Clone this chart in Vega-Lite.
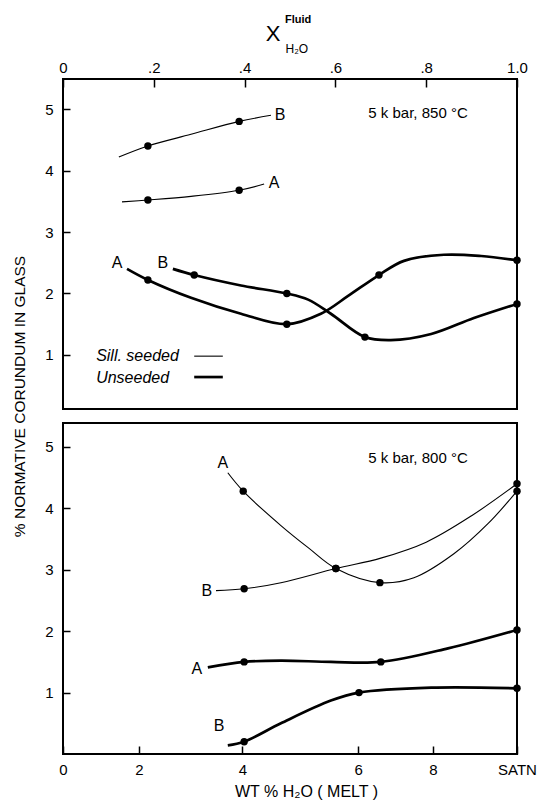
{
  "$schema": "https://vega.github.io/schema/vega-lite/v6.json",
  "background": "white",
  "padding": {"left": 11, "top": 13, "right": 5, "bottom": 5},
  "bounds": "flush",
  "spacing": 14,
  "config": {
    "view": {"stroke": "black", "strokeWidth": 2},
    "font": "Liberation Sans",
    "axis": {"grid": false, "domain": false, "tickColor": "black", "tickWidth": 1.5, "labelColor": "black", "titleColor": "black", "labelFont": "Liberation Sans", "titleFont": "Liberation Sans", "labelFontSize": 15, "titleFontSize": 15.5, "titleFontWeight": "normal", "labelFlush": false, "labelOverlap": false},
    "text": {"font": "Liberation Sans", "color": "black"}
  },
  "datasets": {
    "p850": [
      {"kind": "curve", "series": "SB", "treatment": "Sill. seeded", "x": 0.123, "y": 4.22, "obs": false},
      {"kind": "curve", "series": "SB", "treatment": "Sill. seeded", "x": 0.187, "y": 4.40, "obs": true},
      {"kind": "curve", "series": "SB", "treatment": "Sill. seeded", "x": 0.282, "y": 4.59, "obs": false},
      {"kind": "curve", "series": "SB", "treatment": "Sill. seeded", "x": 0.388, "y": 4.80, "obs": true},
      {"kind": "curve", "series": "SB", "treatment": "Sill. seeded", "x": 0.458, "y": 4.90, "obs": false},
      {"kind": "curve", "series": "SA", "treatment": "Sill. seeded", "x": 0.130, "y": 3.49, "obs": false},
      {"kind": "curve", "series": "SA", "treatment": "Sill. seeded", "x": 0.187, "y": 3.52, "obs": true},
      {"kind": "curve", "series": "SA", "treatment": "Sill. seeded", "x": 0.282, "y": 3.58, "obs": false},
      {"kind": "curve", "series": "SA", "treatment": "Sill. seeded", "x": 0.388, "y": 3.68, "obs": true},
      {"kind": "curve", "series": "SA", "treatment": "Sill. seeded", "x": 0.443, "y": 3.78, "obs": false},
      {"kind": "curve", "series": "UA", "treatment": "Unseeded", "x": 0.141, "y": 2.40, "obs": false},
      {"kind": "curve", "series": "UA", "treatment": "Unseeded", "x": 0.187, "y": 2.22, "obs": true},
      {"kind": "curve", "series": "UA", "treatment": "Unseeded", "x": 0.282, "y": 1.93, "obs": false},
      {"kind": "curve", "series": "UA", "treatment": "Unseeded", "x": 0.392, "y": 1.67, "obs": false},
      {"kind": "curve", "series": "UA", "treatment": "Unseeded", "x": 0.493, "y": 1.50, "obs": true},
      {"kind": "curve", "series": "UA", "treatment": "Unseeded", "x": 0.568, "y": 1.67, "obs": false},
      {"kind": "curve", "series": "UA", "treatment": "Unseeded", "x": 0.628, "y": 1.96, "obs": false},
      {"kind": "curve", "series": "UA", "treatment": "Unseeded", "x": 0.696, "y": 2.30, "obs": true},
      {"kind": "curve", "series": "UA", "treatment": "Unseeded", "x": 0.751, "y": 2.53, "obs": false},
      {"kind": "curve", "series": "UA", "treatment": "Unseeded", "x": 0.839, "y": 2.63, "obs": false},
      {"kind": "curve", "series": "UA", "treatment": "Unseeded", "x": 0.921, "y": 2.61, "obs": false},
      {"kind": "curve", "series": "UA", "treatment": "Unseeded", "x": 1.0, "y": 2.54, "obs": true},
      {"kind": "curve", "series": "UB", "treatment": "Unseeded", "x": 0.242, "y": 2.40, "obs": false},
      {"kind": "curve", "series": "UB", "treatment": "Unseeded", "x": 0.289, "y": 2.30, "obs": true},
      {"kind": "curve", "series": "UB", "treatment": "Unseeded", "x": 0.392, "y": 2.13, "obs": false},
      {"kind": "curve", "series": "UB", "treatment": "Unseeded", "x": 0.493, "y": 2.00, "obs": true},
      {"kind": "curve", "series": "UB", "treatment": "Unseeded", "x": 0.540, "y": 1.90, "obs": false},
      {"kind": "curve", "series": "UB", "treatment": "Unseeded", "x": 0.590, "y": 1.67, "obs": false},
      {"kind": "curve", "series": "UB", "treatment": "Unseeded", "x": 0.665, "y": 1.29, "obs": true},
      {"kind": "curve", "series": "UB", "treatment": "Unseeded", "x": 0.722, "y": 1.24, "obs": false},
      {"kind": "curve", "series": "UB", "treatment": "Unseeded", "x": 0.811, "y": 1.34, "obs": false},
      {"kind": "curve", "series": "UB", "treatment": "Unseeded", "x": 0.905, "y": 1.60, "obs": false},
      {"kind": "curve", "series": "UB", "treatment": "Unseeded", "x": 1.0, "y": 1.83, "obs": true},
      {"kind": "legend", "series": "LS", "treatment": "Sill. seeded", "x": 0.289, "y": 0.98, "obs": false},
      {"kind": "legend", "series": "LS", "treatment": "Sill. seeded", "x": 0.352, "y": 0.98, "obs": false},
      {"kind": "legend", "series": "LU", "treatment": "Unseeded", "x": 0.289, "y": 0.64, "obs": false},
      {"kind": "legend", "series": "LU", "treatment": "Unseeded", "x": 0.352, "y": 0.64, "obs": false},
      {"kind": "label", "text": "B", "x": 0.478, "y": 4.90},
      {"kind": "label", "text": "A", "x": 0.465, "y": 3.80},
      {"kind": "label", "text": "A", "x": 0.119, "y": 2.50},
      {"kind": "label", "text": "B", "x": 0.220, "y": 2.50},
      {"kind": "cond", "text": "5 k bar, 850 °C", "x": 0.782, "y": 4.93},
      {"kind": "legtext", "text": "Sill. seeded", "x": 0.073, "y": 0.98},
      {"kind": "legtext", "text": "Unseeded", "x": 0.073, "y": 0.63},
      {"kind": "xt", "text": "X", "x": 0.463, "y": 6.22},
      {"kind": "xsup", "text": "Fluid", "x": 0.518, "y": 6.45},
      {"kind": "xsub", "text": "H₂O", "x": 0.515, "y": 5.98}
    ],
    "p800": [
      {"kind": "curve", "series": "SA", "treatment": "Sill. seeded", "x": 0.363, "y": 4.58, "obs": false},
      {"kind": "curve", "series": "SA", "treatment": "Sill. seeded", "x": 0.397, "y": 4.28, "obs": true},
      {"kind": "curve", "series": "SA", "treatment": "Sill. seeded", "x": 0.480, "y": 3.72, "obs": false},
      {"kind": "curve", "series": "SA", "treatment": "Sill. seeded", "x": 0.540, "y": 3.36, "obs": false},
      {"kind": "curve", "series": "SA", "treatment": "Sill. seeded", "x": 0.601, "y": 3.02, "obs": true},
      {"kind": "curve", "series": "SA", "treatment": "Sill. seeded", "x": 0.698, "y": 2.79, "obs": true},
      {"kind": "curve", "series": "SA", "treatment": "Sill. seeded", "x": 0.773, "y": 2.87, "obs": false},
      {"kind": "curve", "series": "SA", "treatment": "Sill. seeded", "x": 0.861, "y": 3.26, "obs": false},
      {"kind": "curve", "series": "SA", "treatment": "Sill. seeded", "x": 0.936, "y": 3.75, "obs": false},
      {"kind": "curve", "series": "SA", "treatment": "Sill. seeded", "x": 1.0, "y": 4.28, "obs": true},
      {"kind": "curve", "series": "SB", "treatment": "Sill. seeded", "x": 0.337, "y": 2.66, "obs": false},
      {"kind": "curve", "series": "SB", "treatment": "Sill. seeded", "x": 0.399, "y": 2.69, "obs": true},
      {"kind": "curve", "series": "SB", "treatment": "Sill. seeded", "x": 0.480, "y": 2.79, "obs": false},
      {"kind": "curve", "series": "SB", "treatment": "Sill. seeded", "x": 0.601, "y": 3.02, "obs": true},
      {"kind": "curve", "series": "SB", "treatment": "Sill. seeded", "x": 0.700, "y": 3.19, "obs": false},
      {"kind": "curve", "series": "SB", "treatment": "Sill. seeded", "x": 0.800, "y": 3.45, "obs": false},
      {"kind": "curve", "series": "SB", "treatment": "Sill. seeded", "x": 0.900, "y": 3.88, "obs": false},
      {"kind": "curve", "series": "SB", "treatment": "Sill. seeded", "x": 1.0, "y": 4.40, "obs": true},
      {"kind": "curve", "series": "UA", "treatment": "Unseeded", "x": 0.319, "y": 1.41, "obs": false},
      {"kind": "curve", "series": "UA", "treatment": "Unseeded", "x": 0.399, "y": 1.50, "obs": true},
      {"kind": "curve", "series": "UA", "treatment": "Unseeded", "x": 0.480, "y": 1.52, "obs": false},
      {"kind": "curve", "series": "UA", "treatment": "Unseeded", "x": 0.590, "y": 1.50, "obs": false},
      {"kind": "curve", "series": "UA", "treatment": "Unseeded", "x": 0.700, "y": 1.50, "obs": true},
      {"kind": "curve", "series": "UA", "treatment": "Unseeded", "x": 0.848, "y": 1.72, "obs": false},
      {"kind": "curve", "series": "UA", "treatment": "Unseeded", "x": 1.0, "y": 2.02, "obs": true},
      {"kind": "curve", "series": "UB", "treatment": "Unseeded", "x": 0.363, "y": 0.14, "obs": false},
      {"kind": "curve", "series": "UB", "treatment": "Unseeded", "x": 0.399, "y": 0.20, "obs": true},
      {"kind": "curve", "series": "UB", "treatment": "Unseeded", "x": 0.480, "y": 0.50, "obs": false},
      {"kind": "curve", "series": "UB", "treatment": "Unseeded", "x": 0.590, "y": 0.87, "obs": false},
      {"kind": "curve", "series": "UB", "treatment": "Unseeded", "x": 0.652, "y": 1.00, "obs": true},
      {"kind": "curve", "series": "UB", "treatment": "Unseeded", "x": 0.811, "y": 1.08, "obs": false},
      {"kind": "curve", "series": "UB", "treatment": "Unseeded", "x": 1.0, "y": 1.07, "obs": true},
      {"kind": "label", "text": "A", "x": 0.352, "y": 4.74},
      {"kind": "label", "text": "B", "x": 0.317, "y": 2.66},
      {"kind": "label", "text": "A", "x": 0.295, "y": 1.39},
      {"kind": "label", "text": "B", "x": 0.344, "y": 0.46},
      {"kind": "cond", "text": "5 k bar, 800 °C", "x": 0.782, "y": 4.82}
    ]
  },
  "vconcat": [
    {
      "width": 454,
      "height": 330,
      "data": {"name": "p850"},
      "encoding": {
        "x": {"field": "x", "type": "quantitative", "scale": {"domain": [0, 1], "nice": false, "zero": false},
          "axis": {"orient": "top", "values": [0, 0.2, 0.4, 0.6, 0.8, 1], "labelExpr": "datum.value == 0 ? '0' : datum.value == 1 ? '1.0' : '.' + format(datum.value * 10, 'd')", "tickSize": -8, "labelPadding": 12, "title": null}},
        "y": {"field": "y", "type": "quantitative", "scale": {"domain": [0.12, 5.49], "nice": false, "zero": false},
          "axis": {"values": [1, 2, 3, 4, 5], "tickSize": -7, "labelPadding": 17, "title": "% NORMATIVE CORUNDUM IN GLASS", "titleX": -44, "titleY": 317, "titleBaseline": "middle", "titleAlign": "center", "titleAngle": -90}}
      },
      "layer": [
        {
          "transform": [{"filter": "datum.kind == 'curve' || datum.kind == 'legend'"}],
          "mark": {"type": "line", "interpolate": "catmull-rom", "color": "black"},
          "encoding": {
            "detail": {"field": "series"},
            "strokeWidth": {"field": "treatment", "type": "ordinal", "scale": {"domain": ["Sill. seeded", "Unseeded"], "range": [1.1, 2.7]}, "legend": null}
          }
        },
        {
          "transform": [{"filter": "datum.kind == 'curve' && datum.obs"}],
          "mark": {"type": "circle", "size": 55, "color": "black", "opacity": 1}
        },
        {
          "transform": [{"filter": "datum.kind == 'label'"}],
          "mark": {"type": "text", "fontSize": 16, "baseline": "middle", "align": "center"},
          "encoding": {"text": {"field": "text"}}
        },
        {
          "transform": [{"filter": "datum.kind == 'cond'"}],
          "mark": {"type": "text", "fontSize": 15, "baseline": "middle", "align": "center"},
          "encoding": {"text": {"field": "text"}}
        },
        {
          "transform": [{"filter": "datum.kind == 'legtext'"}],
          "mark": {"type": "text", "fontSize": 16, "fontStyle": "italic", "baseline": "middle", "align": "left"},
          "encoding": {"text": {"field": "text"}}
        },
        {
          "transform": [{"filter": "datum.kind == 'xt'"}],
          "mark": {"type": "text", "fontSize": 22, "baseline": "middle", "align": "center"},
          "encoding": {"text": {"field": "text"}}
        },
        {
          "transform": [{"filter": "datum.kind == 'xsup'"}],
          "mark": {"type": "text", "fontSize": 11, "fontWeight": "bold", "baseline": "middle", "align": "center"},
          "encoding": {"text": {"field": "text"}}
        },
        {
          "transform": [{"filter": "datum.kind == 'xsub'"}],
          "mark": {"type": "text", "fontSize": 12, "baseline": "middle", "align": "center"},
          "encoding": {"text": {"field": "text"}}
        }
      ]
    },
    {
      "width": 454,
      "height": 331,
      "data": {"name": "p800"},
      "encoding": {
        "x": {"field": "x", "type": "quantitative", "scale": {"domain": [0, 1], "nice": false, "zero": false},
          "axis": {"orient": "bottom", "values": [0, 0.167, 0.395, 0.65, 0.815, 1], "labelExpr": "datum.value < 0.05 ? '0' : datum.value < 0.3 ? '2' : datum.value < 0.5 ? '4' : datum.value < 0.7 ? '6' : datum.value < 0.9 ? '8' : 'SATN'", "tickSize": -8, "labelPadding": 16, "title": "WT % H₂O ( MELT )", "titleFontSize": 16, "titlePadding": 6, "titleX": 243}},
        "y": {"field": "y", "type": "quantitative", "scale": {"domain": [0, 5.39], "nice": false, "zero": false},
          "axis": {"values": [1, 2, 3, 4, 5], "tickSize": -7, "labelPadding": 17, "title": null}}
      },
      "layer": [
        {
          "transform": [{"filter": "datum.kind == 'curve'"}],
          "mark": {"type": "line", "interpolate": "catmull-rom", "color": "black"},
          "encoding": {
            "detail": {"field": "series"},
            "strokeWidth": {"field": "treatment", "type": "ordinal", "scale": {"domain": ["Sill. seeded", "Unseeded"], "range": [1.1, 2.7]}, "legend": null}
          }
        },
        {
          "transform": [{"filter": "datum.kind == 'curve' && datum.obs"}],
          "mark": {"type": "circle", "size": 55, "color": "black", "opacity": 1}
        },
        {
          "transform": [{"filter": "datum.kind == 'label'"}],
          "mark": {"type": "text", "fontSize": 16, "baseline": "middle", "align": "center"},
          "encoding": {"text": {"field": "text"}}
        },
        {
          "transform": [{"filter": "datum.kind == 'cond'"}],
          "mark": {"type": "text", "fontSize": 15, "baseline": "middle", "align": "center"},
          "encoding": {"text": {"field": "text"}}
        }
      ]
    }
  ]
}
